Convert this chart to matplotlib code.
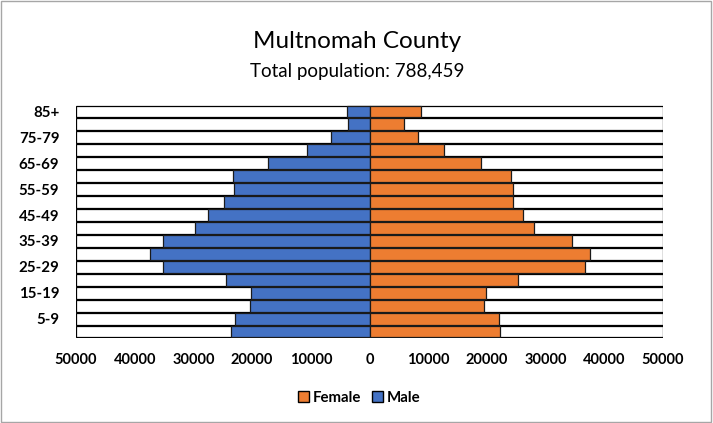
import matplotlib
matplotlib.use("Agg")
import matplotlib.pyplot as plt
from matplotlib.patches import Patch, Rectangle
import numpy as np

plt.rcParams['font.family'] = ['Lato', 'DejaVu Sans']

ages = ["0-4", "5-9", "10-14", "15-19", "20-24", "25-29", "30-34", "35-39",
        "40-44", "45-49", "50-54", "55-59", "60-64", "65-69", "70-74",
        "75-79", "80-84", "85+"]
male = [23630, 22900, 20340, 20170, 24440, 35230, 37390, 35230, 29720,
        27450, 24780, 23070, 23190, 17270, 10570, 6580, 3680, 3850]
female = [22160, 21990, 19430, 19840, 25230, 36660, 37630, 34500, 27960,
          26200, 24380, 24380, 24100, 18990, 12620, 8300, 5800, 8760]
axis_max = 50000
xticks = [-50000, -40000, -30000, -20000, -10000, 0, 10000, 20000, 30000, 40000, 50000]
title = "Multnomah County"
subtitle = "Total population: 788,459"

fig = plt.figure(figsize=(7.13, 4.23), dpi=100)
ax = fig.add_axes([76/713, 1-338/423, (663-76)/713, (338-105)/423])

y = np.arange(len(ages))
h = 0.92
# background white bars
ax.barh(y, [-axis_max]*len(y), height=h, color="white", edgecolor="black", linewidth=0.9, zorder=1)
ax.barh(y, [axis_max]*len(y), height=h, color="white", edgecolor="black", linewidth=0.9, zorder=1)
ax.barh(y, [-v for v in male], height=h, color="#4472C4", edgecolor="#1a1a1a", linewidth=0.9, zorder=2)
ax.barh(y, female, height=h, color="#ED7D31", edgecolor="#1a1a1a", linewidth=0.9, zorder=2)

ax.set_xlim(-axis_max, axis_max)
ax.set_ylim(-0.5, len(ages) - 0.5)
ax.set_yticks(y[1::2])
ax.set_yticklabels(ages[1::2], fontsize=10.8, fontweight="bold")
ax.set_xticks(xticks)
ax.set_xticklabels([str(abs(t)) for t in xticks], fontsize=10.5, fontweight="bold")
ax.tick_params(axis="both", length=0)
ax.tick_params(axis="y", pad=12)
ax.tick_params(axis="x", pad=11)
for s in ax.spines.values():
    s.set_visible(False)

fig.text(357/713, 1-42/423, title, ha="center", va="center", fontsize=17.5)
fig.text(357/713, 1-71/423, subtitle, ha="center", va="center", fontsize=13.5)

handles = [Patch(facecolor="#ED7D31", edgecolor="black", label="Female"),
           Patch(facecolor="#4472C4", edgecolor="black", label="Male")]
leg = fig.legend(handles=handles, loc="center", bbox_to_anchor=(359/713, 1-398/423),
                 ncol=2, frameon=False, handlelength=0.75, handleheight=0.75,
                 handletextpad=0.25, columnspacing=0.7,
                 prop={"size": 10.8, "weight": "bold"})

fig.patches.append(Rectangle((0.002, 0.003), 0.995, 0.994, transform=fig.transFigure,
                             fill=False, edgecolor="#A6A6A6", linewidth=1.0))

fig.savefig("out.png", dpi=100)
